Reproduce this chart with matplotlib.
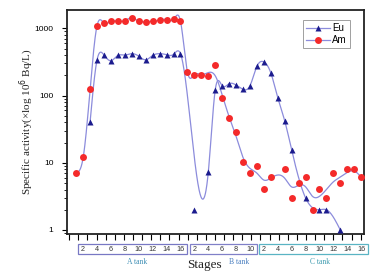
import numpy as np
import matplotlib
matplotlib.use("Agg")
import matplotlib.pyplot as plt
from matplotlib.lines import Line2D
from matplotlib.patches import Rectangle

# stages are numbered continuously across the three tanks
tank_names = ["A tank", "B tank", "C tank"]
tank_sizes = [16, 10, 16]

# specific activity per stage (None = no measurement shown)
eu_values = [None, None, 41, 340, 400, 330, 395, 400, 420, 385, 340, 395, 420, 405, 410, 420,
             None, 2.0, None, 7.2, 121, 140, 150, 143, 124, 140,
             272, 316, 217, 93, 42, 15.5, None, 3.0, None, 2.0, 2.0, None, 1.0, None, None, None]
am_values = [7.1, 12, 125, 1100, 1200, 1270, 1280, 1300, 1440, 1270, 1260, 1270, 1330, 1350, 1360, 1280,
             225, 205, 205, 198, 289, 91, 46, 28.5, 10.1, 7.1,
             9.1, 4.1, 6.1, None, 8.1, 3.0, 5.0, 6.1, 2.0, 4.1, 3.0, 7.0, 5.0, 8.1, 8.1, 6.1]

eu_curve_skip = [18]   # below-detection point the fitted curve ignores
am_smooth_from = 20    # curve is smoothed from this stage on

plt.rcParams['font.family'] = ['Liberation Sans', 'DejaVu Sans']
SERIF = ['Liberation Serif', 'DejaVu Serif']
LINE_C = '#8c8cdc'
EU_C = '#1c1c8e'
AM_C = '#f42a2a'


def natural_spline(x, y, xs):
    """Natural cubic spline through (x, y), evaluated at xs."""
    n = len(x)
    h = np.diff(x)
    A = np.zeros((n, n))
    r = np.zeros(n)
    A[0, 0] = A[-1, -1] = 1
    for i in range(1, n - 1):
        A[i, i - 1] = h[i - 1]
        A[i, i] = 2 * (h[i - 1] + h[i])
        A[i, i + 1] = h[i]
        r[i] = 3 * ((y[i + 1] - y[i]) / h[i] - (y[i] - y[i - 1]) / h[i - 1])
    c = np.linalg.solve(A, r)
    b = (y[1:] - y[:-1]) / h - h * (2 * c[:-1] + c[1:]) / 3
    d = (c[1:] - c[:-1]) / (3 * h)
    idx = np.clip(np.searchsorted(x, xs) - 1, 0, n - 2)
    t = xs - x[idx]
    return y[idx] + b[idx] * t + c[idx] * t**2 + d[idx] * t**3


def curve(values, skip=(), smooth_from=None):
    pos = np.array([i + 1 for i, v in enumerate(values) if v is not None and i + 1 not in skip], float)
    logv = np.log10([v for i, v in enumerate(values) if v is not None and i + 1 not in skip])
    if smooth_from is not None:
        sm = logv.copy()
        for k in range(1, len(logv) - 1):
            if pos[k] >= smooth_from:
                sm[k] = (logv[k - 1] + 2 * logv[k] + logv[k + 1]) / 4
        logv = sm
    xs = np.linspace(pos[0], pos[-1], 800)
    return xs, 10 ** natural_spline(pos, logv, xs)


fig = plt.figure(figsize=(3.84, 2.76), dpi=100)
ax = fig.add_axes([0.1737, 0.1522, 0.775, 0.810])

stages = np.arange(1, len(am_values) + 1)
eu_arr = np.array([np.nan if v is None else v for v in eu_values])
am_arr = np.array([np.nan if v is None else v for v in am_values])

xs, ys = curve(eu_values, skip=eu_curve_skip)
ax.plot(xs, ys, color=LINE_C, lw=0.9, zorder=2)
xs, ys = curve(am_values, smooth_from=am_smooth_from)
ax.plot(xs, ys, color=LINE_C, lw=0.9, zorder=2)

ax.plot(stages, am_arr, 'o', color=AM_C, ms=5, mec='none', zorder=3)
ax.plot(stages, eu_arr, '^', color=EU_C, ms=5, mec='none', zorder=4)

ax.set_yscale('log')
ax.set_ylim(0.872, 1846)
ax.set_xlim(-0.37, 42.45)
ax.set_yticks([1, 10, 100, 1000])
ax.set_yticklabels(['1', '10', '100', '1000'], fontsize=6)
ax.tick_params(axis='y', which='major', direction='out', length=3.5, width=0.8, pad=6)
ax.tick_params(axis='y', which='minor', direction='out', length=2, width=0.6)
ax.set_xticks(np.arange(0, 42.6, 1.31))
ax.set_xticklabels([])
ax.tick_params(axis='x', direction='out', length=4, width=0.8)
for s in ax.spines.values():
    s.set_linewidth(1.3)
    s.set_color('#222222')

# boxed stage labels for each tank
tr = ax.get_xaxis_transform()
box_cols = ['#7878c4', '#8080c8', '#5ab4c4']
name_cols = ['#3f8fb5', '#4a7fc0', '#3f9cb0']
name_x = [9.7, 24.4, 36.1]
start = 1
for name, size, bc, nc, nx in zip(tank_names, tank_sizes, box_cols, name_cols, name_x):
    ax.add_patch(Rectangle((start + 0.3, -0.091), size - 0.3, 0.045, transform=tr,
                           fill=False, ec=bc, lw=0.9, clip_on=False))
    for k in range(2, size + 1, 2):
        ax.text(start + k - 1, -0.069, str(k), transform=tr, ha='center', va='center',
                fontsize=5.2, color='#333333')
    ax.text(nx, -0.125, name, transform=tr, ha='center', va='center',
            fontsize=5.5, color=nc, family=SERIF)
    start += size

ax.text(19.5, -0.139, 'Stages', transform=tr, ha='center', va='center',
        fontsize=9.5, family=SERIF, color='#222222')
fig.text(27 / 384, 1 - 122 / 276, 'Specific activity(×log 10$^6$ Bq/L)', rotation=90,
         ha='center', va='center', fontsize=8, family=SERIF, color='#222222')

handles = [Line2D([], [], color=LINE_C, lw=0.9, marker='^', mfc=EU_C, mec='none', ms=5),
           Line2D([], [], color=LINE_C, lw=0.9, marker='o', mfc=AM_C, mec='none', ms=5)]
leg = ax.legend(handles, ['Eu', 'Am'], loc='upper right', bbox_to_anchor=(0.952, 0.957),
                fontsize=7, frameon=True, fancybox=False, handlelength=2.4, handletextpad=0.3,
                borderpad=0.3, labelspacing=0.2, borderaxespad=0)
leg.get_frame().set_edgecolor('#888888')
leg.get_frame().set_linewidth(0.7)

fig.savefig('out.png', dpi=100)
